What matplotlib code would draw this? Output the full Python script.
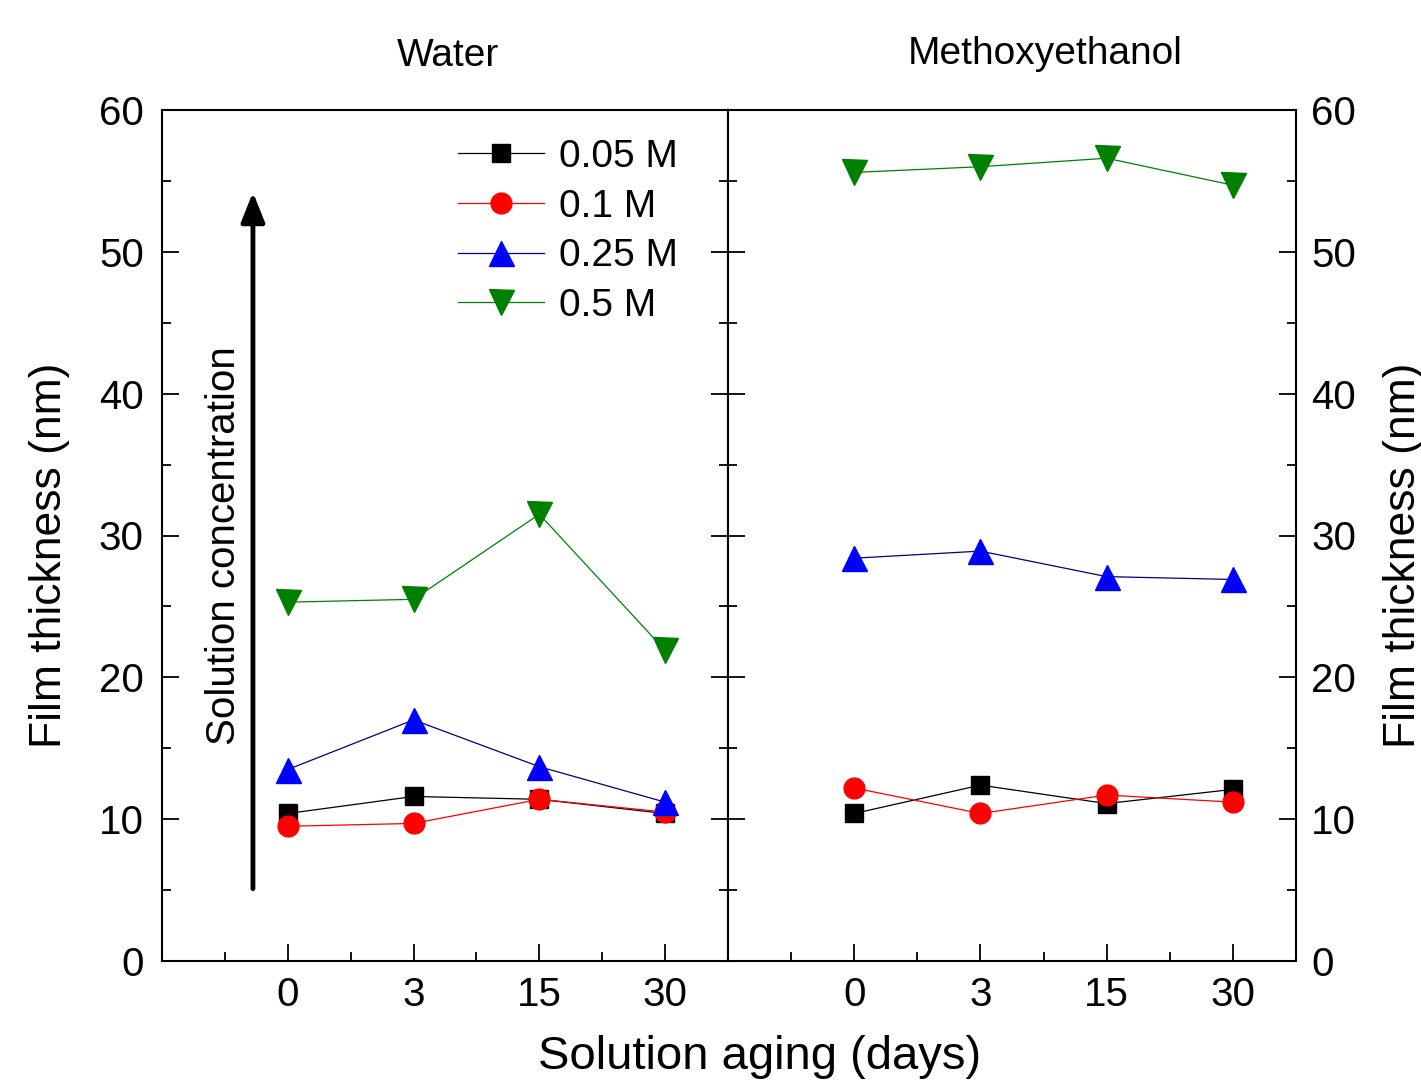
import matplotlib
matplotlib.use("Agg")
import matplotlib.pyplot as plt
import numpy as np
from matplotlib.ticker import MultipleLocator

plt.rcParams['font.family'] = ['Liberation Sans', 'DejaVu Sans']

days = ["0", "3", "15", "30"]
labels = ["0.05 M", "0.1 M", "0.25 M", "0.5 M"]

water_005 = [10.4, 11.6, 11.4, 10.4]
water_01 = [9.5, 9.7, 11.4, 10.5]
water_025 = [13.5, 17.0, 13.7, 11.2]
water_05 = [25.3, 25.5, 31.5, 21.9]

meth_005 = [10.4, 12.4, 11.1, 12.1]
meth_01 = [12.2, 10.4, 11.7, 11.2]
meth_025 = [28.4, 28.9, 27.1, 26.9]
meth_05 = [55.6, 56.0, 56.6, 54.7]

marker_colors = ["#000000", "#ff0000", "#0000ff", "#008000"]
line_colors = ["#000000", "#ff0000", "#000080", "#008000"]
markers = ["s", "o", "^", "v"]
msizes = [13, 15, 18, 18]

W, H = 1421, 1083
fig = plt.figure(figsize=(W / 100, H / 100), dpi=100)

def ax_rect(x0, x1, y0, y1):
    return [x0 / W, 1 - y1 / H, (x1 - x0) / W, (y1 - y0) / H]

axL = fig.add_axes(ax_rect(162, 728, 110, 961))
axR = fig.add_axes(ax_rect(728, 1296, 110, 961))

x = np.arange(1, len(days) + 1)

def style(ax, right):
    ax.set_xlim(0, 4.5)
    ax.set_ylim(0, 60)
    ax.set_xticks(x)
    ax.set_xticklabels(days)
    ax.xaxis.set_minor_locator(MultipleLocator(0.5))
    ax.yaxis.set_major_locator(MultipleLocator(10))
    ax.yaxis.set_minor_locator(MultipleLocator(5))
    for s in ax.spines.values():
        s.set_linewidth(1.5)
    ax.tick_params(axis='both', which='both', direction='in', width=1.3,
                   top=False, left=True, right=True, labelsize=29)
    ax.tick_params(which='major', length=12)
    ax.tick_params(which='minor', length=6.5)
    ax.tick_params(axis='x', pad=11)
    if right:
        ax.tick_params(axis='y', labelleft=False, labelright=True, pad=11)
    else:
        ax.tick_params(axis='y', labelleft=True, labelright=False, pad=13)

style(axL, False)
style(axR, True)

water = [water_005, water_01, water_025, water_05]
meth = [meth_005, meth_01, meth_025, meth_05]

for i in range(4):
    axL.plot(x, water[i], color=line_colors[i], lw=0.9, marker=markers[i],
             ms=msizes[i], mfc=marker_colors[i], mec=marker_colors[i],
             label=labels[i])
    axR.plot(x, meth[i], color=line_colors[i], lw=0.9, marker=markers[i],
             ms=msizes[i], mfc=marker_colors[i], mec=marker_colors[i],
             label=labels[i])

leg = axL.legend(loc='upper left', bbox_to_anchor=(0.523, 0.966), frameon=False,
                 fontsize=28, numpoints=1, handlelength=2.2, handletextpad=0.4,
                 labelspacing=0.35, borderpad=0, borderaxespad=0)

axL.annotate("", xy=(0.723, 54.2), xytext=(0.723, 5.1),
             arrowprops=dict(arrowstyle='-|>,head_length=0.9,head_width=0.36',
                             lw=3.5, color='black', mutation_scale=20,
                             shrinkA=0, shrinkB=0))
axL.text(0.49, 29.3, "Solution concentration", rotation=90, fontsize=29,
         ha='center', va='center')

fig.text(448 / W, 1 - 56 / H, "Water", fontsize=28, ha='center', va='center')
fig.text(1045 / W, 1 - 54 / H, "Methoxyethanol", fontsize=28, ha='center', va='center')
fig.text(760 / W, 1 - 1057 / H, "Solution aging (days)", fontsize=34, ha='center', va='center')
fig.text(50 / W, 1 - 555 / H, "Film thickness (nm)", fontsize=32, rotation=90,
         ha='center', va='center')
fig.text(1403 / W, 1 - 555 / H, "Film thickness (nm)", fontsize=32, rotation=90,
         ha='center', va='center')

fig.savefig("out.png", dpi=100)
